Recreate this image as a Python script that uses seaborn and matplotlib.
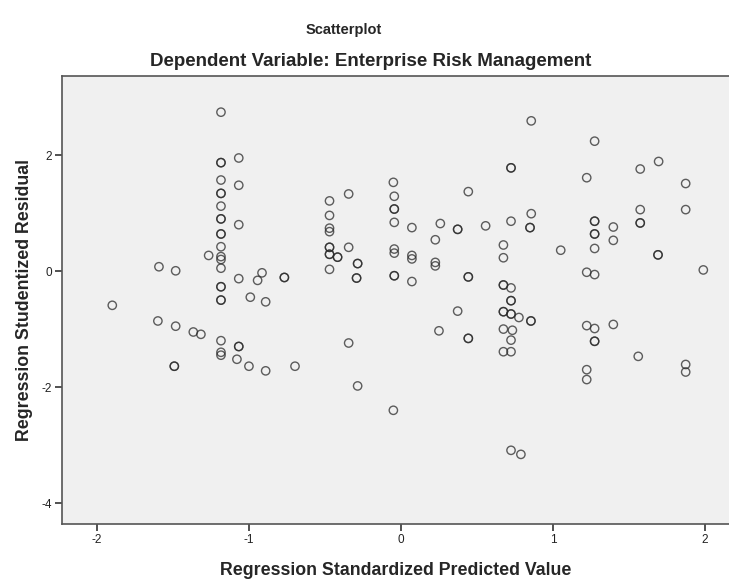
import numpy as np
import pandas as pd
import matplotlib
matplotlib.use('Agg')
import matplotlib.pyplot as plt
import seaborn as sns

# Values (repeated pairs = overlapping cases)
pred = [
    -1.184, -1.184, -1.184, -1.184, -1.184, -1.184, -1.184, -1.184, -1.184, -1.184, -1.184,
    -1.184, -1.184, -1.184, -1.184, -1.184, -1.184, -1.184, -1.184, -1.184, -1.184, -1.184,
    -1.067, -1.067, -1.067, -1.067, -1.067, -1.067, -1.079,
    -1.265, -1.592, -1.482, -0.943, -0.914, -0.767, -0.767, -0.991, -0.890, -1.899,
    -1.599, -1.482, -1.366, -1.316, -1.000, -0.890, -0.697, -1.491, -1.491,
    -0.470, -0.470, -0.470, -0.470, -0.470, -0.470, -0.470, -0.470, -0.470,
    -0.417, -0.417, -0.344, -0.344, -0.344, -0.285, -0.285, -0.285, -0.292, -0.292,
    -0.050, -0.050,
    -0.044, -0.044, -0.044, -0.044, -0.044, -0.044, -0.044, -0.044,
    0.072, 0.072, 0.072, 0.072, 0.226, 0.226, 0.226, 0.259, 0.250,
    0.373, 0.373, 0.373, 0.443, 0.443, 0.443, 0.443, 0.443, 0.557,
    0.674, 0.674, 0.674, 0.674, 0.674, 0.674, 0.674, 0.674,
    0.724, 0.724, 0.724, 0.724, 0.724, 0.724, 0.724, 0.724, 0.724, 0.724, 0.724,
    0.733, 0.776, 0.789, 0.855, 0.855, 0.857, 0.857, 0.849, 0.849, 1.051,
    1.222, 1.222, 1.222, 1.222, 1.222,
    1.274, 1.274, 1.274, 1.274, 1.274, 1.274, 1.274, 1.274, 1.274, 1.274,
    1.397, 1.397, 1.397, 1.561, 1.574, 1.574, 1.574, 1.574, 1.695, 1.691, 1.691,
    1.873, 1.873, 1.873, 1.873, 1.989,
]
resid = [
    2.74, 1.87, 1.87, 1.57, 1.34, 1.34, 1.12, 0.90, 0.90, 0.64, 0.64,
    0.42, 0.25, 0.20, 0.05, -0.27, -0.27, -0.50, -0.50, -1.20, -1.40, -1.45,
    1.95, 1.48, 0.80, -0.13, -1.30, -1.30, -1.52,
    0.27, 0.075, 0.005, -0.16, -0.03, -0.11, -0.11, -0.45, -0.53, -0.59,
    -0.86, -0.95, -1.05, -1.09, -1.64, -1.72, -1.64, -1.64, -1.64,
    1.21, 0.96, 0.74, 0.68, 0.41, 0.41, 0.29, 0.29, 0.03,
    0.24, 0.24, 1.33, 0.41, -1.24, 0.13, 0.13, -1.98, -0.12, -0.12,
    1.53, -2.40,
    1.29, 1.07, 1.07, 0.84, 0.38, 0.31, -0.08, -0.08,
    0.75, 0.27, 0.21, -0.18, 0.54, 0.15, 0.09, 0.82, -1.03,
    0.72, 0.72, -0.69, 1.37, -0.10, -0.10, -1.16, -1.16, 0.78,
    0.45, 0.23, -0.24, -0.24, -0.70, -0.70, -1.00, -1.39,
    1.78, 1.78, 0.86, -0.29, -0.51, -0.51, -0.74, -0.74, -1.19, -1.39, -3.09,
    -1.02, -0.80, -3.16, -0.86, -0.86, 2.59, 0.99, 0.75, 0.75, 0.36,
    1.61, -0.02, -0.94, -1.70, -1.87,
    2.24, 0.86, 0.86, 0.64, 0.64, 0.39, -0.06, -0.99, -1.21, -1.21,
    0.76, 0.53, -0.92, -1.47, 1.76, 1.06, 0.83, 0.83, 1.89, 0.28, 0.28,
    1.51, 1.06, -1.61, -1.74, 0.02,
]

x_ticks = [-2, -1, 0, 1, 2]
y_ticks = [-4, -2, 0, 2]

df = pd.DataFrame({'pred': pred, 'resid': resid})

sns.set_style('white')
plt.rcParams['font.family'] = ['Liberation Sans', 'DejaVu Sans']
plt.rcParams['axes.unicode_minus'] = False

fig = plt.figure(figsize=(7.29, 5.80), dpi=100)
ax = fig.add_axes([0.085, 0.0966, 0.915, 0.772])
ax.set_facecolor('#f0f0f0')

sns.scatterplot(data=df, x='pred', y='resid', ax=ax, marker='o', s=36,
                facecolor='none', edgecolor='#2a2a2a', linewidth=1.0, alpha=0.75)

ax.set_xlim(-2.23, 2.158)
ax.set_ylim(-4.36, 3.36)
ax.set_xticks(x_ticks)
ax.set_yticks(y_ticks)
ax.tick_params(axis='both', direction='out', length=5, width=1.2, color='#333333',
               labelsize=8.5, labelcolor='#222222', pad=2, bottom=True, left=True)

for side in ['left', 'bottom', 'top']:
    ax.spines[side].set_color('#555555')
    ax.spines[side].set_linewidth(1.2)
ax.spines['right'].set_visible(False)

ax.set_xlabel('Regression Standardized Predicted Value', fontsize=12.8,
              fontweight='bold', labelpad=12)
ax.set_ylabel('Regression Studentized Residual', fontsize=12.8,
              fontweight='bold', labelpad=6)

fig.text(0.472, 1 - 30 / 580, 'Scatterplot', ha='center', va='center',
         fontsize=10.5, fontweight='bold')
fig.text(0.508, 1 - 61 / 580, 'Dependent Variable: Enterprise Risk Management',
         ha='center', va='center', fontsize=13.5, fontweight='bold')

fig.savefig('out.png', dpi=100)
